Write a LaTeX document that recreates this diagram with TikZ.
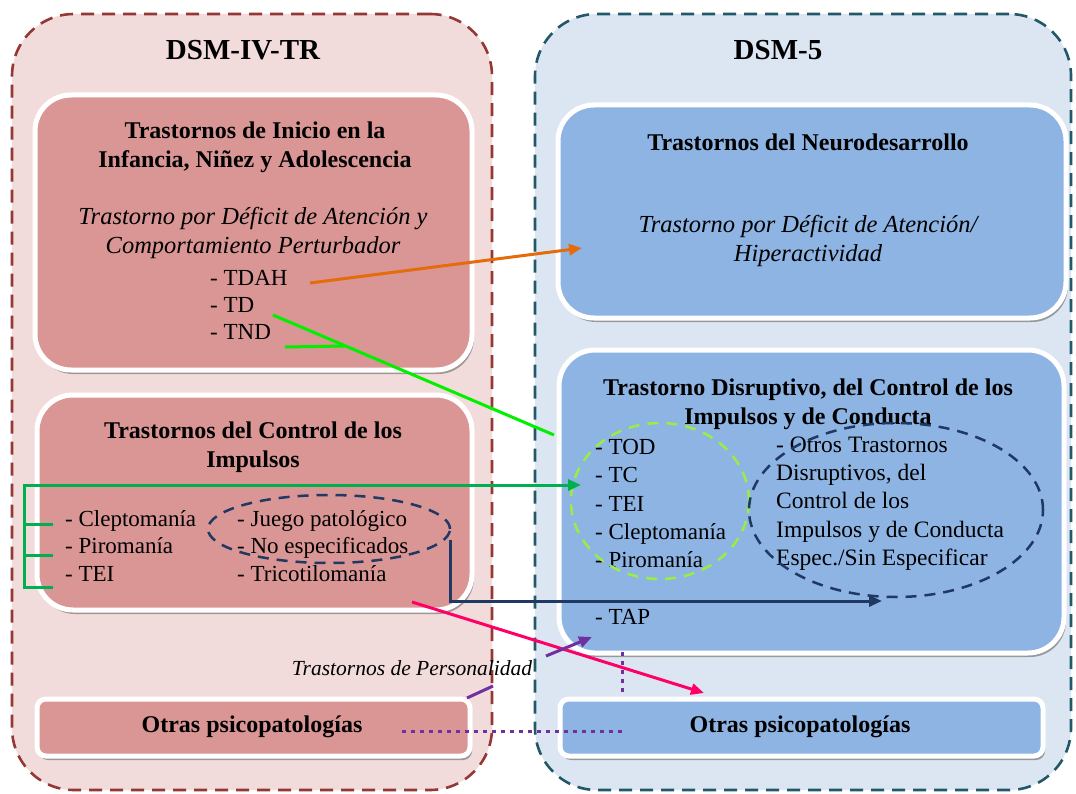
\documentclass[tikz,border=0pt]{standalone}
\usepackage{fontspec}
\setmainfont{Liberation Serif}
\usetikzlibrary{shadows,arrows.meta,shapes.geometric}

\definecolor{viejofondo}{HTML}{F2DCDB}
\definecolor{viejoborde}{HTML}{953735}
\definecolor{viejocaja}{HTML}{D99694}
\definecolor{nuevofondo}{HTML}{DCE6F2}
\definecolor{nuevoborde}{HTML}{215968}
\definecolor{nuevocaja}{HTML}{8EB4E3}
\definecolor{naranja}{HTML}{E46C0A}
\definecolor{verdevivo}{HTML}{00F000}
\definecolor{verdecontrol}{HTML}{00B050}
\definecolor{verdeclaro}{HTML}{99EE44}
\definecolor{azul}{HTML}{1F3864}
\definecolor{rosa}{HTML}{FF0066}
\definecolor{lila}{HTML}{7030A0}

\begin{document}
\begin{tikzpicture}[x=1pt,y=-1pt,
  panel/.style={draw,line width=2.6pt,dash pattern=on 13pt off 8pt,rounded corners=62pt,inner sep=0pt},
  caja/.style={draw=white,line width=5pt,rounded corners=36pt,inner sep=0pt,
    drop shadow={shadow xshift=2pt,shadow yshift=-4pt,fill=black!60,opacity=.6}},
  cajita/.style={caja,rounded corners=9pt},
  titulo/.style={font=\fontsize{24}{29}\selectfont\bfseries,align=center,inner sep=0pt},
  cursiva/.style={font=\fontsize{24.5}{29.5}\selectfont\itshape,align=center,inner sep=0pt},
  lista/.style={font=\fontsize{23}{27.4}\selectfont,align=left,anchor=west,inner sep=0pt},
  ovalo/.style={ellipse,draw,line width=2.5pt,dash pattern=on 11pt off 8pt,inner sep=0pt},
  linea/.style={line width=3pt},
  flecha/.style={line width=3pt,-{Triangle[length=13pt,width=11pt]}},
  punteado/.style={line width=3pt,dash pattern=on 3.5pt off 5.5pt,lila}]

\useasboundingbox (0,0) rectangle (1076,794);

% los dos paneles
\node[panel,draw=viejoborde,fill=viejofondo,minimum width=480pt,minimum height=776pt] (viejo) at (252,402) {};
\node[panel,draw=nuevoborde,fill=nuevofondo,minimum width=536pt,minimum height=776pt] (nuevo) at (803,402) {};
\node[titulo,font=\fontsize{29}{32}\selectfont\bfseries] (tviejo) at (243,50) {DSM-IV-TR};
\node[titulo,font=\fontsize{29}{32}\selectfont\bfseries] (tnuevo) at (778,50) {DSM-5};

% cajas
\node[caja,fill=viejocaja,minimum width=437pt,minimum height=275pt] (inicio) at (253.5,232.5) {};
\node[caja,fill=viejocaja,minimum width=435pt,minimum height=215pt] (control) at (254.5,502.5) {};
\node[cajita,fill=viejocaja,minimum width=433pt,minimum height=57pt] (otrasviejo) at (253.5,727.5) {};
\node[caja,fill=nuevocaja,minimum width=508pt,minimum height=213pt] (neuro) at (812,211.5) {};
\node[caja,fill=nuevocaja,minimum width=505pt,minimum height=303pt] (disrup) at (811.5,501.5) {};
\node[cajita,fill=nuevocaja,minimum width=483pt,minimum height=57pt] (otrasnuevo) at (801.5,727.5) {};

% textos DSM-IV-TR
\node[titulo] (tinicio) at (255,147.5) {Trastornos de Inicio en la\\Infancia, Niñez y Adolescencia};
\node[cursiva] (tdeficit) at (253,233) {Trastorno por Déficit de Atención y\\Comportamiento Perturbador};
\node[lista] (linicio) at (210,305) {- TDAH\\- TD\\- TND};
\node[titulo] (tcontrol) at (253,447) {Trastornos del Control de los\\Impulsos};
\node[lista] (lcontrol) at (65,546) {- Cleptomanía\\- Piromanía\\- TEI};
\node[lista] (lotros) at (237,546) {- Juego patológico\\- No especificados\\- Tricotilomanía};
\node[titulo,font=\fontsize{24}{28}\selectfont\bfseries] (totrasviejo) at (252,727) {Otras psicopatologías};

% textos DSM-5
\node[titulo] (tneuro) at (808,142) {Trastornos del Neurodesarrollo};
\node[cursiva] (ttdah) at (808,241) {Trastorno por Déficit de Atención/\\Hiperactividad};
\node[titulo] (tdisrup) at (808,404.5) {Trastorno Disruptivo, del Control de los\\Impulsos y de Conducta};
\node[lista,font=\fontsize{23}{28.25}\selectfont] (ldisrup) at (595,503.5) {- TOD\\- TC\\- TEI\\- Cleptomanía\\- Piromanía};
\node[lista] (ltap) at (595,617) {- TAP};
\node[lista,font=\fontsize{23.5}{28.25}\selectfont] (lespec) at (776,503.5) {- Otros Trastornos\\Disruptivos, del\\Control de los\\Impulsos y de Conducta\\Espec./Sin Especificar};
\node[titulo,font=\fontsize{24}{28}\selectfont\bfseries] (totrasnuevo) at (800,727) {Otras psicopatologías};
\node[inner sep=0pt,font=\fontsize{21.5}{24}\selectfont\itshape] (personalidad) at (412,668) {Trastornos de Personalidad};

% ovalos
\node[ovalo,draw=azul,minimum width=242pt,minimum height=68pt] (noesp) at (329,529) {};
\node[ovalo,draw=verdeclaro,minimum width=178pt,minimum height=156pt] (comunes) at (660,501) {};
\node[ovalo,draw=azul,minimum width=294pt,minimum height=174pt] (otrosdis) at (896,510) {};

% puntos de las flechas
\coordinate (tdahfin) at (310,283);
\coordinate (tdahpunta) at (582,248);
\coordinate (tdini) at (273,315);
\coordinate (tdfin) at (554,435);
\coordinate (tndini) at (285,347);
\coordinate (tndunion) at (345,346);
\coordinate (llavearriba) at (24,485);
\coordinate (llaveabajo) at (24,587);
\coordinate (clepto) at (53,524);
\coordinate (piro) at (53,555);
\coordinate (tei) at (53,587);
\coordinate (tcpunta) at (581,485);
\coordinate (noespini) at (450,540);
\coordinate (otrospunta) at (882,601);
\coordinate (tricoini) at (412,602);
\coordinate (tricopunta) at (704,693);
\coordinate (persini) at (467,698);
\coordinate (persa) at (493,686);
\coordinate (persb) at (546,656);
\coordinate (tappunta) at (592,637);
\coordinate (puntosini) at (402,731);
\coordinate (puntosfin) at (622,731);
\coordinate (disrupabajo) at (622,652);
\coordinate (puntosbajo) at (622,693);

% flechas
\draw[flecha,naranja] (tdahfin) -- (tdahpunta);
\draw[linea,verdevivo] (tdini) -- (tdfin);
\draw[linea,verdevivo] (tndini) -- (tndunion);
\draw[flecha,verdecontrol] (tei) -- (llaveabajo) -- (llavearriba) -- (tcpunta);
\draw[linea,verdecontrol] (clepto) -- (clepto -| llavearriba) (piro) -- (piro -| llavearriba);
\draw[flecha,azul] (noespini) |- (otrospunta);
\draw[flecha,rosa] (tricoini) -- (tricopunta);
\draw[linea,lila] (persini) -- (persa);
\draw[flecha,lila] (persb) -- (tappunta);
\draw[punteado] (puntosini) -- (puntosfin);
\draw[punteado] (disrupabajo) -- (puntosbajo);
\end{tikzpicture}
\end{document}
